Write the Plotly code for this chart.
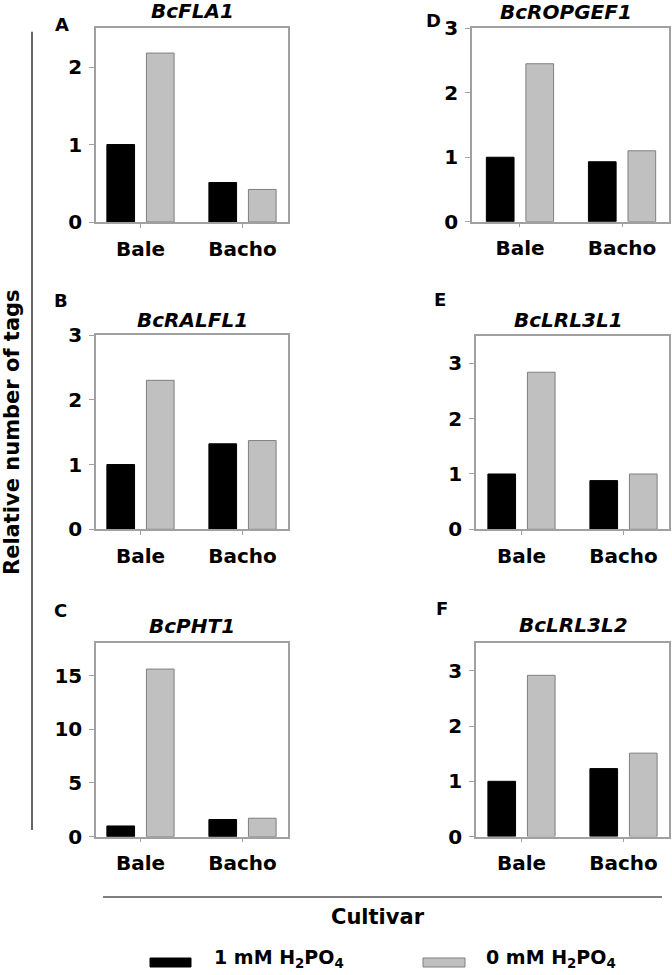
import plotly.graph_objects as go

W, H = 672, 975
FONT = "DejaVu Sans, Liberation Sans, Arial, sans-serif"

cultivars = ["Bale", "Bacho"]
genes = ["BcFLA1", "BcRALFL1", "BcPHT1", "BcROPGEF1", "BcLRL3L1", "BcLRL3L2"]
panel_letters = ["A", "B", "C", "D", "E", "F"]
treat_names = ["1 mM H<sub>2</sub>PO<sub>4</sub>", "0 mM H<sub>2</sub>PO<sub>4</sub>"]

# values [Bale, Bacho]
fla1_1mM = [1.0, 0.51]
fla1_0mM = [2.18, 0.42]
ralfl1_1mM = [1.0, 1.32]
ralfl1_0mM = [2.30, 1.37]
pht1_1mM = [1.0, 1.6]
pht1_0mM = [15.6, 1.72]
ropgef1_1mM = [1.0, 0.93]
ropgef1_0mM = [2.45, 1.10]
lrl3l1_1mM = [1.0, 0.88]
lrl3l1_0mM = [2.84, 1.0]
lrl3l2_1mM = [1.0, 1.23]
lrl3l2_0mM = [2.92, 1.51]

y_ranges = [[0, 2.5], [0, 3], [0, 18], [0, 3], [0, 3.5], [0, 3.5]]
y_dticks = [1, 1, 5, 1, 1, 1]

series_1mM = [fla1_1mM, ralfl1_1mM, pht1_1mM, ropgef1_1mM, lrl3l1_1mM, lrl3l2_1mM]
series_0mM = [fla1_0mM, ralfl1_0mM, pht1_0mM, ropgef1_0mM, lrl3l1_0mM, lrl3l2_0mM]

# layout geometry (pixels)
boxes = [  # x0, x1, ytop, ybottom
    (96, 288, 28.3, 222.0),
    (96, 288, 335.0, 529.3),
    (96, 288, 643.3, 836.7),
    (472, 669, 28.3, 221.7),
    (476, 669, 335.7, 529.3),
    (476, 669, 643.3, 836.5),
]
x_ranges = [[-0.436, 1.446], [-0.436, 1.446], [-0.436, 1.446],
            [-0.47, 1.46], [-0.446, 1.446], [-0.446, 1.446]]
title_pos = [(192, 11), (192, 319.5), (192, 625.5), (566, 12.5), (568, 320), (573.5, 624.5)]
letter_pos = [(62, 24.5), (61.5, 300), (60.5, 610), (433.5, 20), (440, 299.5), (442, 608.5)]

def px(x):
    return x / W

def py(y):
    return 1 - y / H

fig = go.Figure()
AX = "#a0a0a0"
for i in range(6):
    n = "" if i == 0 else str(i + 1)
    xa, ya = "x" + n, "y" + n
    fig.add_trace(go.Bar(x=cultivars, y=series_1mM[i], name="1 mM", xaxis=xa, yaxis=ya,
                         marker=dict(color="#000000", line=dict(color="#000000", width=1)),
                         showlegend=False))
    fig.add_trace(go.Bar(x=cultivars, y=series_0mM[i], name="0 mM", xaxis=xa, yaxis=ya,
                         marker=dict(color="#c0c0c0", line=dict(color="#7f7f7f", width=1)),
                         showlegend=False))
    x0, x1, yt, yb = boxes[i]
    fig.layout["xaxis" + n] = dict(
        domain=[px(x0), px(x1)], anchor=ya, range=x_ranges[i], type="category",
        showline=True, linecolor=AX, linewidth=1.5, mirror=True, automargin=False,
        ticks="outside", ticklen=4, tickcolor=AX, tickwidth=1,
        showgrid=False, zeroline=False, ticklabelstandoff=4,
        tickfont=dict(family=FONT, size=20, color="#000", weight="bold"))
    fig.layout["yaxis" + n] = dict(
        domain=[py(yb), py(yt)], anchor=xa, range=y_ranges[i], dtick=y_dticks[i], tick0=0,
        showline=True, linecolor=AX, linewidth=1.5, mirror=True, automargin=False,
        ticks="outside", ticklen=5, tickcolor=AX, tickwidth=1,
        showgrid=False, zeroline=False, ticklabelstandoff=3,
        tickfont=dict(family=FONT, size=20, color="#000", weight="bold"))

annotations = []
for i in range(6):
    tx, ty = title_pos[i]
    annotations.append(dict(text="<b><i>" + genes[i] + "</i></b>", x=px(tx), y=py(ty),
                            xref="paper", yref="paper", xanchor="center", yanchor="middle",
                            showarrow=False, font=dict(family=FONT, size=20, color="#000")))
    lx, ly = letter_pos[i]
    annotations.append(dict(text="<b>" + panel_letters[i] + "</b>", x=px(lx), y=py(ly),
                            xref="paper", yref="paper", xanchor="center", yanchor="middle",
                            showarrow=False, font=dict(family=FONT, size=18, color="#000")))

annotations.append(dict(text="<b>Relative number of tags</b>", x=px(12), y=py(432),
                        xref="paper", yref="paper", xanchor="center", yanchor="middle",
                        textangle=-90, showarrow=False,
                        font=dict(family=FONT, size=21, color="#000")))
annotations.append(dict(text="<b>Cultivar</b>", x=px(378), y=py(917),
                        xref="paper", yref="paper", xanchor="center", yanchor="middle",
                        showarrow=False, font=dict(family=FONT, size=21, color="#000")))
annotations.append(dict(text="<b>" + treat_names[0] + "</b>", x=px(212), y=py(958),
                        xref="paper", yref="paper", xanchor="left", yanchor="middle",
                        showarrow=False, font=dict(family=FONT, size=19, color="#000")))
annotations.append(dict(text="<b>" + treat_names[1] + "</b>", x=px(484), y=py(958),
                        xref="paper", yref="paper", xanchor="left", yanchor="middle",
                        showarrow=False, font=dict(family=FONT, size=19, color="#000")))

shapes = [
    dict(type="line", xref="paper", yref="paper", x0=px(32), x1=px(32), y0=py(31.7), y1=py(830),
         line=dict(color="#333333", width=1.5)),
    dict(type="line", xref="paper", yref="paper", x0=px(103), x1=px(662), y0=py(897), y1=py(897),
         line=dict(color="#555555", width=1.5)),
    dict(type="rect", xref="paper", yref="paper", x0=px(150), x1=px(191), y0=py(967), y1=py(958),
         fillcolor="#000000", line=dict(color="#000000", width=1)),
    dict(type="rect", xref="paper", yref="paper", x0=px(423), x1=px(465), y0=py(967), y1=py(958),
         fillcolor="#c0c0c0", line=dict(color="#7f7f7f", width=1)),
]

fig.update_layout(
    width=W, height=H, margin=dict(l=0, r=0, t=0, b=0, pad=0, autoexpand=False),
    paper_bgcolor="white", plot_bgcolor="white",
    barmode="group", bargap=0.225, bargroupgap=0.3,
    annotations=annotations, shapes=shapes, showlegend=False,
    font=dict(family=FONT, color="#000"),
)

post = (
    "document.documentElement.style.margin='0';"
    "document.body.style.margin='0';document.body.style.padding='0';"
    "document.body.style.overflow='hidden';"
    "var d=document.getElementById('{plot_id}');"
    "d.style.position='fixed';d.style.top='0px';d.style.left='0px';"
)
fig.write_html("out.html", config={"displayModeBar": False, "responsive": False},
               post_script=post)
